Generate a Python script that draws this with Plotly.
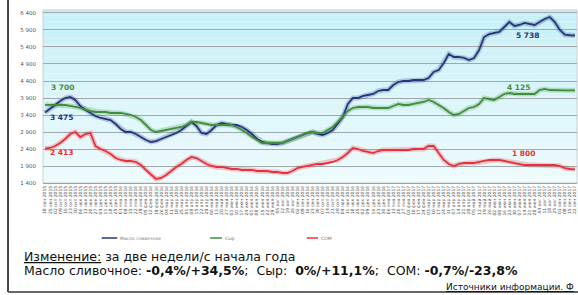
import plotly.graph_objects as go

DATES = [
    "18 сен 2015", "25 сен 2015", "02 окт 2015", "09 окт 2015", "16 окт 2015", "23 окт 2015", "30 окт 2015",
    "06 ноя 2015", "13 ноя 2015", "20 ноя 2015", "27 ноя 2015", "04 дек 2015", "11 дек 2015", "18 дек 2015",
    "25 дек 2015", "01 янв 2016", "08 янв 2016", "15 янв 2016", "22 янв 2016", "29 янв 2016", "05 фев 2016",
    "12 фев 2016", "19 фев 2016", "26 фев 2016", "04 мар 2016", "11 мар 2016", "18 мар 2016", "25 мар 2016",
    "01 апр 2016", "08 апр 2016", "15 апр 2016", "22 апр 2016", "29 апр 2016", "06 май 2016", "13 май 2016",
    "20 май 2016", "27 май 2016", "03 июн 2016", "10 июн 2016", "17 июн 2016", "24 июн 2016", "01 июл 2016",
    "08 июл 2016", "15 июл 2016", "22 июл 2016", "29 июл 2016", "05 авг 2016", "12 авг 2016", "19 авг 2016",
    "26 авг 2016", "02 сен 2016", "09 сен 2016", "16 сен 2016", "23 сен 2016", "30 сен 2016", "07 окт 2016",
    "14 окт 2016", "21 окт 2016", "28 окт 2016", "04 ноя 2016", "11 ноя 2016", "18 ноя 2016", "25 ноя 2016",
    "02 дек 2016", "09 дек 2016", "16 дек 2016", "23 дек 2016", "30 дек 2016", "06 янв 2017", "13 янв 2017",
    "20 янв 2017", "27 янв 2017", "03 фев 2017", "10 фев 2017", "17 фев 2017", "24 фев 2017", "03 мар 2017",
    "10 мар 2017", "17 мар 2017", "24 мар 2017", "31 мар 2017", "07 апр 2017", "14 апр 2017", "21 апр 2017",
    "28 апр 2017", "05 май 2017", "12 май 2017", "19 май 2017", "26 май 2017", "02 июн 2017", "09 июн 2017",
    "16 июн 2017", "23 июн 2017", "30 июн 2017", "07 июл 2017", "14 июл 2017", "21 июл 2017", "28 июл 2017",
    "04 авг 2017", "11 авг 2017", "18 авг 2017", "25 авг 2017", "01 сен 2017", "08 сен 2017", "15 сен 2017",
    "22 сен 2017",
]

BUTTER = [
    3475, 3577, 3694, 3812, 3900, 3930, 3841, 3665, 3547, 3459,
    3371, 3312, 3283, 3253, 3135, 2988, 2900, 2900, 2841, 2753,
    2665, 2606, 2635, 2694, 2753, 2812, 2871, 2959, 3077, 3194,
    3077, 2871, 2841, 2959, 3106, 3165, 3135, 3106, 3106, 3047,
    2959, 2841, 2694, 2606, 2577, 2547, 2547, 2577, 2635, 2694,
    2753, 2812, 2871, 2900, 2841, 2812, 2871, 2959, 3135, 3341,
    3724, 3900, 3900, 3959, 3988, 4018, 4106, 4135, 4135, 4282,
    4371, 4400, 4400, 4429, 4429, 4429, 4488, 4665, 4724, 4930,
    5194, 5106, 5106, 5077, 5018, 5077, 5312, 5694, 5782, 5812,
    5841, 5988, 6135, 6018, 6047, 6106, 6077, 6047, 6135, 6224,
    6282, 6135, 5900, 5760, 5745, 5738,
]

CHEESE = [
    3700, 3694, 3694, 3694, 3694, 3665, 3635, 3606, 3547, 3518,
    3488, 3488, 3488, 3459, 3459, 3459, 3430, 3400, 3341, 3253,
    3106, 2959, 2900, 2930, 2959, 2988, 3018, 3047, 3106, 3194,
    3194, 3165, 3135, 3106, 3106, 3106, 3106, 3106, 3047, 2959,
    2871, 2753, 2665, 2577, 2577, 2577, 2577, 2577, 2635, 2694,
    2753, 2812, 2871, 2900, 2871, 2871, 2959, 3047, 3194, 3371,
    3518, 3606, 3635, 3635, 3635, 3606, 3606, 3606, 3606, 3665,
    3724, 3694, 3694, 3724, 3753, 3783, 3841, 3783, 3694, 3606,
    3488, 3400, 3430, 3518, 3606, 3635, 3724, 3900, 3871, 3841,
    3930, 4018, 4047, 4018, 4018, 4018, 4018, 4018, 4135, 4165,
    4135, 4125, 4125, 4125, 4125, 4125,
]

SMP = [
    2413, 2430, 2488, 2577, 2694, 2841, 2900, 2753, 2841, 2871,
    2488, 2400, 2341, 2253, 2135, 2077, 2047, 2047, 2018, 1929,
    1783, 1635, 1518, 1547, 1635, 1753, 1871, 1959, 2077, 2165,
    2135, 2047, 1959, 1900, 1871, 1871, 1841, 1812, 1812, 1783,
    1783, 1783, 1753, 1753, 1753, 1724, 1724, 1694, 1694, 1753,
    1841, 1871, 1900, 1929, 1959, 1959, 1988, 2018, 2077, 2165,
    2282, 2430, 2400, 2341, 2312, 2282, 2341, 2371, 2371, 2371,
    2371, 2371, 2371, 2400, 2400, 2400, 2488, 2488, 2282, 2077,
    1959, 1900, 1959, 1988, 1988, 1988, 2018, 2047, 2077, 2077,
    2077, 2047, 2018, 1988, 1959, 1929, 1929, 1929, 1929, 1929,
    1929, 1929, 1900, 1841, 1812, 1800,
]

Y_TICKS = [1400, 1900, 2400, 2900, 3400, 3900, 4400, 4900, 5400, 5900, 6400]
Y_TICK_TEXT = ["1 400", "1 900", "2 400", "2 900", "3 400", "3 900", "4 400", "4 900", "5 400", "5 900", "6 400"]

NAMES = ["Масло сливочное", "Сыр", "СОМ"]
COLORS = ["#24367e", "#3f8f3a", "#e8303a"]
GLOWS = ["rgba(36,54,126,0.25)", "rgba(63,143,58,0.25)", "rgba(232,48,58,0.25)"]

x_idx = list(range(len(DATES)))
series = [BUTTER, CHEESE, SMP]

fig = go.Figure()
for vals, g in zip(series, GLOWS):
    fig.add_trace(go.Scatter(x=x_idx, y=vals, mode="lines", line=dict(color=g, width=5),
                             showlegend=False, hoverinfo="skip"))
for vals, c, n in zip(series, COLORS, NAMES):
    fig.add_trace(go.Scatter(x=x_idx, y=vals, mode="lines", name=n,
                             line=dict(color=c, width=1.8), showlegend=False))

shapes = []
nb = 30
for k in range(nb):
    t = k / (nb - 1)
    r = int(200 + (238 - 200) * t)
    gg = int(240 + (251 - 240) * t)
    b = int(248 + (253 - 248) * t)
    shapes.append(dict(type="rect", xref="paper", yref="paper", x0=0, x1=1,
                       y0=1 - (k + 1) / nb, y1=1 - k / nb,
                       fillcolor=f"rgb({r},{gg},{b})", line=dict(width=0), layer="below"))
shapes.append(dict(type="rect", xref="paper", yref="paper", x0=0, x1=1, y0=0, y1=1,
                   line=dict(color="#c8d0d4", width=1), layer="below"))

# outer frame
shapes.append(dict(type="line", xref="paper", yref="paper", x0=-0.0655, x1=-0.0655, y0=1.06, y1=-0.630,
                   line=dict(color="#444444", width=2)))
shapes.append(dict(type="line", xref="paper", yref="paper", x0=-0.0655, x1=1.01, y0=-0.630, y1=-0.630,
                   line=dict(color="#666666", width=2)))

# legend drawn below the plot
leg = [(0.110, 0.139, 0.141), (0.313, 0.335, 0.337), (0.494, 0.515, 0.517)]
annotations = []
for (a, b, tx), c, n in zip(leg, COLORS, NAMES):
    shapes.append(dict(type="line", xref="paper", yref="paper", x0=a, x1=b, y0=-0.318, y1=-0.318,
                       line=dict(color=c, width=1.5)))
    annotations.append(dict(xref="paper", yref="paper", x=tx, y=-0.318, text=n, showarrow=False,
                            xanchor="left", yanchor="middle",
                            font=dict(size=4.5, color="#777777", family="DejaVu Sans")))

# start / end value labels, anchored at the data points
lab = [
    (0, CHEESE[0], COLORS[1], "left", 4, 17),
    (0, BUTTER[0], COLORS[0], "left", 3, -5),
    (0, SMP[0], COLORS[2], "left", 3, -4),
    (len(DATES) - 1, BUTTER[-1], COLORS[0], "right", -33, 0),
    (len(DATES) - 1, CHEESE[-1], COLORS[1], "right", -42, 3),
    (len(DATES) - 1, SMP[-1], COLORS[2], "right", -37, 16),
]
for xi, yv, c, xa, xs, ys in lab:
    annotations.append(dict(x=xi, y=yv, text=f"<b>{yv:,}</b>".replace(",", " "), showarrow=False,
                            xanchor=xa, yanchor="middle", xshift=xs, yshift=ys,
                            font=dict(size=7.5, color=c, family="DejaVu Sans")))

# notes below chart
annotations.append(dict(xref="paper", yref="paper", x=-0.0393, y=-0.422, xanchor="left", yanchor="middle",
                        showarrow=False, align="left",
                        text="<u>Изменение:</u> за две недели/с начала года",
                        font=dict(size=12.5, color="#111111", family="DejaVu Sans")))
annotations.append(dict(xref="paper", yref="paper", x=-0.0393, y=-0.503, xanchor="left", yanchor="middle",
                        showarrow=False, align="left",
                        text="Масло сливочное: <b>-0,4%/+34,5%</b>;  Сыр:  <b>0%/+11,1%</b>;  СОМ: <b>-0,7%/-23,8%</b>",
                        font=dict(size=12.5, color="#111111", family="DejaVu Sans")))
annotations.append(dict(xref="paper", yref="paper", x=0.998, y=-0.600, xanchor="right", yanchor="middle",
                        showarrow=False, align="right",
                        text="<u>Источники информации. Ф</u>",
                        font=dict(size=9, color="#111111", family="DejaVu Sans")))

fig.update_layout(
    width=578, height=295,
    margin=dict(l=43, r=1, t=10, b=112),
    paper_bgcolor="white", plot_bgcolor="rgba(0,0,0,0)",
    shapes=shapes, annotations=annotations,
    showlegend=False,
    xaxis=dict(range=[-0.4, len(DATES) - 1 + 0.4], tickmode="array", tickvals=x_idx, ticktext=DATES,
               tickangle=-90, tickfont=dict(size=4.5, color="#555555", family="DejaVu Sans"),
               showgrid=False, zeroline=False, showline=True, linecolor="#9aa0a4", linewidth=1,
               ticks="", fixedrange=True),
    yaxis=dict(range=[1400, 6488], tickmode="array", tickvals=Y_TICKS, ticktext=Y_TICK_TEXT,
               tickfont=dict(size=5.5, color="#555555", family="DejaVu Sans"),
               showgrid=True, gridcolor="#9fa9ae", gridwidth=1, zeroline=False, showline=False,
               ticks="", ticklabelstandoff=6, fixedrange=True),
)

fig.write_html("out.html", config={"displayModeBar": False},
               post_script="document.body.style.margin='0';document.body.style.overflow='hidden';")
